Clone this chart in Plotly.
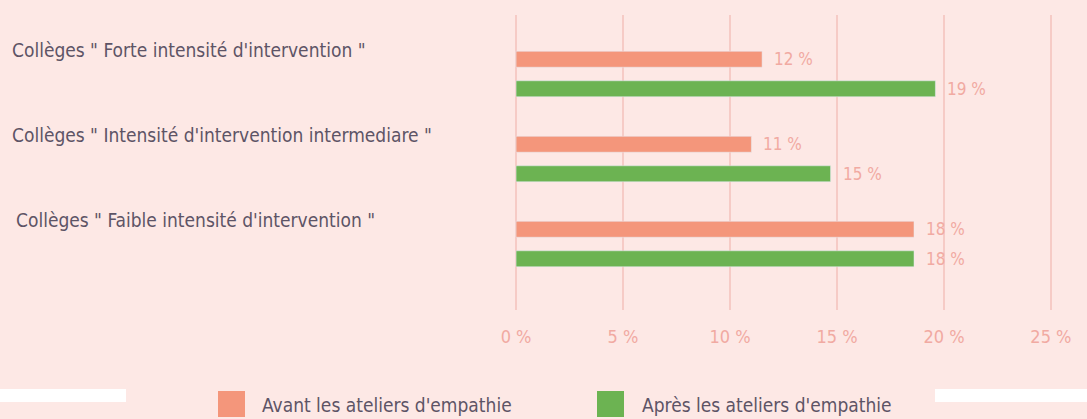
import plotly.graph_objects as go

categories = [
    "Collèges \" Forte intensité d'intervention \"",
    "Collèges \" Intensité d'intervention intermediare \"",
    "Collèges \" Faible intensité d'intervention \"",
]
series_names = ["Avant les ateliers d'empathie", "Après les ateliers d'empathie"]
avant_values = [11.5, 11.0, 18.6]
apres_values = [19.6, 14.7, 18.6]
avant_labels = ["12 %", "11 %", "18 %"]
apres_labels = ["19 %", "15 %", "18 %"]
x_ticks = [0, 5, 10, 15, 20, 25]
x_tick_labels = ["0 %", "5 %", "10 %", "15 %", "20 %", "25 %"]

W, H = 1087, 419
ML, MR, MT, MB = 515, 35, 15, 109
PW = W - ML - MR
PH = H - MT - MB

BG = "#fde8e5"
ORANGE = "#f4967b"
GREEN = "#6cb352"
PINK_TXT = "#f1aaa2"
GRID = "#f6cbc6"
DARK = "#5d5466"
FONT = "Liberation Sans Narrow, DejaVu Sans Condensed, Roboto, sans-serif"


def px_x(p):
    return (p - ML) / PW


def px_y(p):
    return 1 - (p - MT) / PH


fig = go.Figure()
idx = list(range(len(categories)))
fig.add_trace(go.Bar(y=idx, x=avant_values, orientation="h", name=series_names[0],
                     marker=dict(color=ORANGE), showlegend=False, hoverinfo="skip"))
fig.add_trace(go.Bar(y=idx, x=apres_values, orientation="h", name=series_names[1],
                     marker=dict(color=GREEN), showlegend=False, hoverinfo="skip"))

bargap = 0.306
half = (1 - bargap) / 4
annotations = []
label_x = [10, 10, 14]
for i in idx:
    annotations.append(dict(x=avant_values[i], y=i - half, xref="x", yref="y",
                            text=avant_labels[i], showarrow=False, xanchor="left",
                            xshift=10, font=dict(family=FONT, size=17, color=PINK_TXT)))
    annotations.append(dict(x=apres_values[i], y=i + half, xref="x", yref="y",
                            text=apres_labels[i], showarrow=False, xanchor="left",
                            xshift=10, font=dict(family=FONT, size=17, color=PINK_TXT)))
    annotations.append(dict(x=px_x(label_x[i]), y=i, xref="paper", yref="y", text=categories[i],
                            showarrow=False, xanchor="left", yshift=24,
                            font=dict(family=FONT, size=19, color=DARK)))

# custom legend
legend_pos = [(218, 260), (597, 640)]
colors = [ORANGE, GREEN]
shapes = []
for (sx, tx), name, c in zip(legend_pos, series_names, colors):
    shapes.append(dict(type="rect", xref="paper", yref="paper", x0=px_x(sx), x1=px_x(sx + 27),
                       y0=px_y(417), y1=px_y(391), fillcolor=c, line=dict(width=0)))
    annotations.append(dict(x=px_x(tx), y=px_y(405), xref="paper", yref="paper", text=name,
                            showarrow=False, xanchor="left", yanchor="middle",
                            font=dict(family=FONT, size=19, color=DARK)))
# decorative white strips
for x0, x1 in [(0, 126), (935, 1087)]:
    shapes.append(dict(type="rect", xref="paper", yref="paper", x0=px_x(x0), x1=px_x(x1),
                       y0=px_y(402), y1=px_y(389), fillcolor="white", line=dict(width=0),
                       layer="below"))

fig.update_layout(
    width=W, height=H,
    margin=dict(l=ML, r=MR, t=MT, b=MB),
    paper_bgcolor=BG, plot_bgcolor=BG,
    barmode="group", bargap=bargap, bargroupgap=0.46,
    annotations=annotations, shapes=shapes,
    hovermode=False,
    xaxis=dict(range=[-0.05, 25.05], tickvals=x_ticks, ticktext=x_tick_labels,
               showgrid=True, gridcolor=GRID, gridwidth=2, zeroline=False,
               showline=False, ticks="", ticklabelstandoff=14,
               tickfont=dict(family=FONT, size=18, color=PINK_TXT), fixedrange=True),
    yaxis=dict(range=[2.776, -0.694], showticklabels=False, showgrid=False,
               zeroline=False, showline=False, ticks="", fixedrange=True),
    font=dict(family=FONT),
)

fig.write_html("out.html", config={"displayModeBar": False},
               post_script="document.body.style.margin='0';document.body.style.padding='0';"
                           "document.body.style.overflow='hidden';")
